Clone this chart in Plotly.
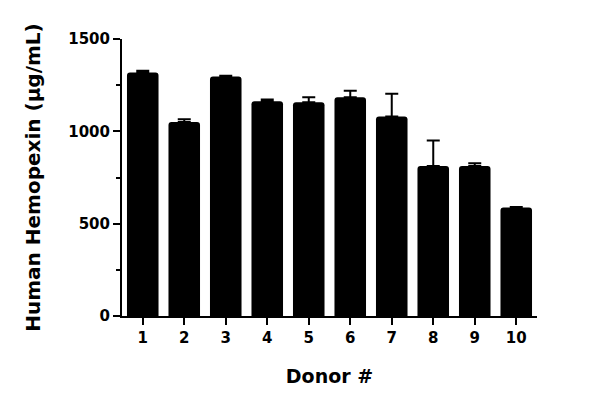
import plotly.graph_objects as go

donors = ["1", "2", "3", "4", "5", "6", "7", "8", "9", "10"]
means = [1318, 1051, 1297, 1163, 1157, 1185, 1080, 812, 812, 588]
sem_up = [10, 15, 4, 10, 28, 35, 124, 138, 15, 2]

FONT = "DejaVu Sans"

fig = go.Figure()
fig.add_trace(go.Bar(
    x=donors, y=means,
    marker=dict(color="black", line=dict(color="black", width=0), cornerradius=3),
    width=0.76,
    error_y=dict(type="data", symmetric=False, array=sem_up,
                 arrayminus=[0] * len(sem_up), color="black",
                 thickness=2, width=6.5),
    showlegend=False,
))

fig.update_layout(
    width=600, height=410,
    margin=dict(l=114, r=71, t=31, b=102),
    plot_bgcolor="white", paper_bgcolor="white",
    font=dict(family=FONT, color="black", size=15),
    bargap=0.24,
)
fig.update_xaxes(
    type="category", range=[-0.5, 9.5],
    showline=True, linecolor="black", linewidth=2,
    ticks="outside", ticklen=7, tickwidth=2, tickcolor="black",
    tickfont=dict(family=FONT, size=15, weight="bold"),
    title=dict(text="Donor #", font=dict(family=FONT, size=19, weight="bold"), standoff=24),
    showgrid=False, zeroline=False,
)
fig.update_yaxes(
    range=[0, 1500], tickvals=[0, 500, 1000, 1500],
    showline=True, linecolor="black", linewidth=2,
    ticks="outside", ticklen=7, tickwidth=2, tickcolor="black",
    minor=dict(tickvals=[250, 750, 1250], ticks="outside", ticklen=4, tickwidth=2, tickcolor="black", showgrid=False),
    tickfont=dict(family=FONT, size=15, weight="bold"),
    title=dict(text="Human Hemopexin (μg/mL)", font=dict(family=FONT, size=20, weight="bold"), standoff=22),
    showgrid=False, zeroline=False,
)

fig.write_html("out.html")
